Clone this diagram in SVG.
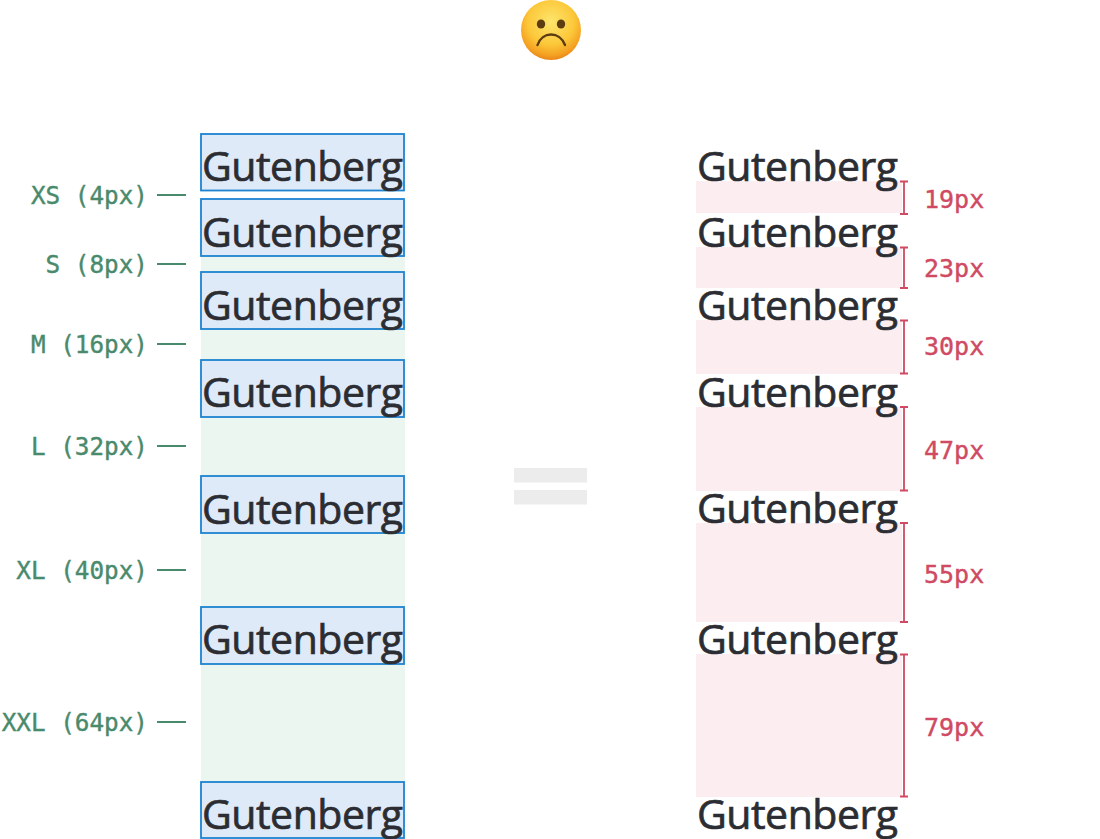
<svg xmlns="http://www.w3.org/2000/svg" width="1100" height="839" viewBox="0 0 1100 839">
<style>
.g{font-family:"Open Sans","Noto Sans",sans-serif;font-size:41px;fill:#2b2d33;stroke:#2b2d33;stroke-width:.7px}
.box{fill:#dfeaf8;stroke:#1d83d0;stroke-width:1.8}
.gap{fill:#ebf6f0}
.pink{fill:#fbedf0}
.lg{font-family:"DejaVu Sans Mono","Liberation Mono",monospace;font-size:24.300px;fill:#4a8a6c;stroke:#4a8a6c;stroke-width:.4px;text-anchor:end}
.lr{font-family:"DejaVu Sans Mono","Liberation Mono",monospace;font-size:25px;fill:#cf4a62;stroke:#cf4a62;stroke-width:.4px}
.tick{stroke:#4a8a6c;stroke-width:1.8;fill:none}
.br{stroke:#cf4a62;stroke-width:1.8;fill:none}
.eq{fill:#ececec}
</style>
<defs>
<radialGradient id="face" cx="50%" cy="36%" r="64%">
<stop offset="0" stop-color="#fde56c"/><stop offset=".6" stop-color="#fcc83a"/><stop offset=".88" stop-color="#f4a021"/><stop offset="1" stop-color="#e9851a"/>
</radialGradient>
</defs>
<g id="emoji">
<circle cx="551" cy="30" r="30" fill="url(#face)"/>
<ellipse cx="541" cy="24" rx="4.200" ry="4.600" fill="#5e3c12"/>
<ellipse cx="561" cy="24" rx="4.200" ry="4.600" fill="#5e3c12"/>
<path d="M537.500 45C542 31 560 31 565 45" fill="none" stroke="#5e3c12" stroke-width="2.400" stroke-linecap="round"/>
</g>
<g id="equals">
<rect class="eq" x="514" y="468" width="73" height="14.500"/>
<rect class="eq" x="514" y="490" width="73" height="14.500"/>
</g>
<g id="left-gaps">
<rect class="gap" x="201" y="256" width="204" height="16"/>
<rect class="gap" x="201" y="329" width="204" height="31"/>
<rect class="gap" x="201" y="417" width="204" height="59"/>
<rect class="gap" x="201" y="533" width="204" height="74"/>
<rect class="gap" x="201" y="664" width="204" height="118"/>
</g>
<g id="right-gaps">
<rect class="pink" x="696" y="181" width="206" height="32"/>
<rect class="pink" x="696" y="247" width="206" height="41"/>
<rect class="pink" x="696" y="320" width="206" height="54"/>
<rect class="pink" x="696" y="407" width="206" height="84"/>
<rect class="pink" x="696" y="523" width="206" height="99"/>
<rect class="pink" x="696" y="654" width="206" height="143"/>
</g>
<g id="left-1"><rect class="box" x="201" y="134" width="203" height="56.500"/><text class="g" x="202" y="181" textLength="201">Gutenberg</text></g>
<g id="left-2"><rect class="box" x="201" y="199" width="203" height="57"/><text class="g" x="202" y="247" textLength="201">Gutenberg</text></g>
<g id="left-3"><rect class="box" x="201" y="272" width="203" height="57"/><text class="g" x="202" y="320" textLength="201">Gutenberg</text></g>
<g id="left-4"><rect class="box" x="201" y="360" width="203" height="57"/><text class="g" x="202" y="407" textLength="201">Gutenberg</text></g>
<g id="left-5"><rect class="box" x="201" y="476" width="203" height="57"/><text class="g" x="202" y="524" textLength="201">Gutenberg</text></g>
<g id="left-6"><rect class="box" x="201" y="607" width="203" height="57"/><text class="g" x="202" y="654" textLength="201">Gutenberg</text></g>
<g id="left-7"><rect class="box" x="201" y="782" width="203" height="56"/><text class="g" x="202" y="829" textLength="201">Gutenberg</text></g>
<g id="right-1"><text class="g" x="697" y="181" textLength="201">Gutenberg</text></g>
<g id="right-2"><text class="g" x="697" y="247" textLength="201">Gutenberg</text></g>
<g id="right-3"><text class="g" x="697" y="320" textLength="201">Gutenberg</text></g>
<g id="right-4"><text class="g" x="697" y="407" textLength="201">Gutenberg</text></g>
<g id="right-5"><text class="g" x="697" y="523" textLength="201">Gutenberg</text></g>
<g id="right-6"><text class="g" x="697" y="654" textLength="201">Gutenberg</text></g>
<g id="right-7"><text class="g" x="697" y="829" textLength="201">Gutenberg</text></g>
<g id="connectors">
<path class="tick" d="M157 195H186M157 264H186M157 344H186M157 446H186M157 570H186M157 722H186"/>
<path class="br" d="M900 181.500H908M904 181.500V214M900 214H908"/>
<path class="br" d="M900 247.500H908M904 247.500V288M900 288H908"/>
<path class="br" d="M900 320.500H908M904 320.500V373.500M900 373.500H908"/>
<path class="br" d="M900 407H908M904 407V490.500M900 490.500H908"/>
<path class="br" d="M900 523H908M904 523V622M900 622H908"/>
<path class="br" d="M900 654.500H908M904 654.500V796.500M900 796.500H908"/>
</g>
<g id="labels-left">
<text class="lg" x="148" y="204">XS (4px)</text>
<text class="lg" x="148" y="273">S (8px)</text>
<text class="lg" x="148" y="353">M (16px)</text>
<text class="lg" x="148" y="455">L (32px)</text>
<text class="lg" x="148" y="579">XL (40px)</text>
<text class="lg" x="148" y="731">XXL (64px)</text>
</g>
<g id="labels-right">
<text class="lr" x="924" y="208">19px</text>
<text class="lr" x="924" y="277">23px</text>
<text class="lr" x="924" y="355">30px</text>
<text class="lr" x="924" y="459">47px</text>
<text class="lr" x="924" y="583">55px</text>
<text class="lr" x="924" y="736">79px</text>
</g>
</svg>
